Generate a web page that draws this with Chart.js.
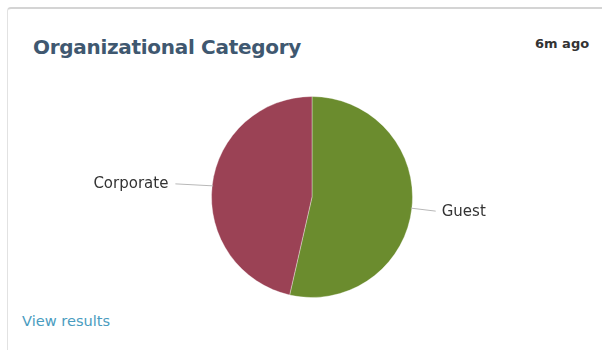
<!DOCTYPE html>
<html>
<head>
<meta charset="utf-8">
<script src="https://cdn.jsdelivr.net/npm/chart.js@4"></script>
<style>
  html, body { margin: 0; padding: 0; background: #fff; }
  body { width: 602px; height: 350px; position: relative; overflow: hidden; font-family: "DejaVu Sans", Verdana, sans-serif; }
  .card { position: absolute; left: 7px; top: 7px; width: 640px; height: 400px; border-top: 2px solid #d4d4d4; border-left: 1px solid #e2e2e2; border-top-left-radius: 4px; }
  .title { position: absolute; left: 33px; top: 35px; font-size: 20px; font-weight: bold; color: #3f5870; letter-spacing: -0.3px; }
  .ago { position: absolute; left: 535px; top: 36px; font-size: 13px; font-weight: bold; color: #333; }
  .view { position: absolute; left: 22px; top: 312px; font-size: 14.6px; color: #4a9cc0; }
  #wrap { position: absolute; left: 0; top: 0; width: 602px; height: 350px; }
</style>
</head>
<body>
<div class="card"></div>
<div class="title">Organizational Category</div>
<div class="ago">6m ago</div>
<div class="view">View results</div>
<div id="wrap"><canvas id="chart-org"></canvas></div>
<script>
// ORGANIZATIONAL CATEGORY PIE
const categories = ['Guest', 'Corporate'];
const counts = [15, 13];
const colors = ['#6b8c2e', '#9b4255'];

// draws each label outside the pie with a short leader line
const outerLabels = {
    id: 'outerLabels',
    afterDatasetsDraw(chart) {
        const ctx = chart.ctx;
        const meta = chart.getDatasetMeta(0);
        ctx.save();
        ctx.font = '15px "DejaVu Sans", Verdana, sans-serif';
        ctx.textBaseline = 'middle';
        meta.data.forEach((arc, i) => {
            const mid = (arc.startAngle + arc.endAngle) / 2;
            const r = arc.outerRadius;
            const cx = arc.x, cy = arc.y;
            const left = Math.cos(mid) < 0;
            const x1 = cx + Math.cos(mid) * (r - 1);
            const y1 = cy + Math.sin(mid) * (r - 1);
            const len = left ? 38 : 25;
            const x2 = x1 + Math.cos(mid) * len;
            const y2 = y1 + (left ? -2 : 3);
            ctx.strokeStyle = '#b8b8b8';
            ctx.lineWidth = 1;
            ctx.beginPath();
            ctx.moveTo(x1, y1);
            ctx.lineTo(x2, y2);
            ctx.stroke();
            ctx.fillStyle = '#333';
            if (left) {
                ctx.textAlign = 'right';
                ctx.fillText(chart.data.labels[i], x2 - 7, y2);
            } else {
                ctx.textAlign = 'left';
                ctx.fillText(chart.data.labels[i], x2 + 6, y2 + 1);
            }
        });
        ctx.restore();
    }
};

const orgCot = document.getElementById('chart-org');

let orgChart = new Chart(orgCot, {
    type: 'pie',
    data: {
        labels: categories,
        datasets: [{
            data: counts,
            backgroundColor: colors,
            borderColor: 'rgba(255,255,255,0.35)',
            borderWidth: 1
        }]
    },
    options: {
        responsive: true,
        maintainAspectRatio: false,
        animation: false,
        layout: {
            padding: { left: 211, right: 189, top: 96, bottom: 52 }
        },
        plugins: {
            legend: { display: false },
            tooltip: { enabled: false }
        }
    },
    plugins: [outerLabels]
});
</script>
</body>
</html>
